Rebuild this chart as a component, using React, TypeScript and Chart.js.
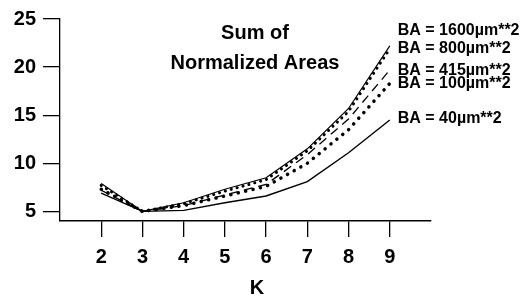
import React, { useEffect, useRef } from 'react';
import { Chart, registerables } from 'chart.js';

Chart.register(...registerables);

const kValues = [2, 3, 4, 5, 6, 7, 8, 9];
const ba1600 = [7.9, 5.0, 5.9, 7.3, 8.5, 11.5, 15.7, 22.2];
const ba800 = [7.7, 5.0, 5.8, 7.1, 8.3, 11.3, 15.4, 21.9];
const ba415 = [7.2, 5.0, 5.6, 6.7, 7.8, 10.9, 14.6, 19.7];
const ba100 = [7.3, 5.0, 5.6, 6.6, 7.6, 10.0, 13.5, 18.3];
const ba40 = [6.9, 5.0, 5.1, 5.9, 6.6, 8.1, 11.1, 14.5];

const seriesLabels = [
  'BA = 1600µm**2',
  'BA = 800µm**2',
  'BA = 415µm**2',
  'BA = 100µm**2',
  'BA = 40µm**2',
];
const labelValues = [23.75, 21.9, 19.6, 18.3, 14.6];
const yTicks = [5, 10, 15, 20, 25];
const xTicks = [2, 3, 4, 5, 6, 7, 8, 9];
const titleLines = ['Sum of', 'Normalized Areas'];
const titleValues = [23.45, 20.4];
const xTitle = 'K';

const FONT = '"Liberation Sans", Arial, Helvetica, sans-serif';

const textPlugin = {
  id: 'textPlugin',
  afterDraw(chart: any) {
    const { ctx, scales } = chart;
    const xs = scales.x;
    const ys = scales.y;
    ctx.save();
    ctx.fillStyle = '#000';
    // title
    ctx.font = `bold 20px ${FONT}`;
    ctx.textAlign = 'center';
    ctx.textBaseline = 'middle';
    titleLines.forEach((t, i) => {
      ctx.fillText(t, xs.getPixelForValue(5.73), ys.getPixelForValue(titleValues[i]));
    });
    // series labels
    ctx.font = `bold 16px ${FONT}`;
    ctx.textAlign = 'left';
    seriesLabels.forEach((t, i) => {
      ctx.fillText(t, xs.getPixelForValue(9) + 8, ys.getPixelForValue(labelValues[i]));
    });
    // x title
    ctx.font = `bold 20px ${FONT}`;
    ctx.textAlign = 'center';
    ctx.fillText(xTitle, xs.getPixelForValue(5.78), 288);
    ctx.restore();
  },
};

export default function App() {
  const ref = useRef<HTMLCanvasElement | null>(null);
  useEffect(() => {
    if (!ref.current) return;
    const mk = (arr: number[]) => kValues.map((k, i) => ({ x: k, y: arr[i] }));
    const chart = new Chart(ref.current, {
      type: 'line',
      data: {
        datasets: [
          { label: seriesLabels[0], data: mk(ba1600), borderColor: '#000', borderWidth: 1.2, pointRadius: 0, tension: 0 },
          { label: seriesLabels[1], data: mk(ba800), borderColor: '#000', borderWidth: 3, borderDash: [0.1, 6], borderCapStyle: 'round', pointRadius: 0, tension: 0 },
          { label: seriesLabels[2], data: mk(ba415), borderColor: '#000', borderWidth: 1.3, borderDash: [9, 6], pointRadius: 0, tension: 0 },
          { label: seriesLabels[3], data: mk(ba100), borderColor: '#000', borderWidth: 3.5, borderDash: [0.1, 7.5], borderCapStyle: 'round', pointRadius: 0, tension: 0 },
          { label: seriesLabels[4], data: mk(ba40), borderColor: '#000', borderWidth: 1.4, pointRadius: 0, tension: 0 },
        ],
      },
      options: {
        animation: false,
        responsive: false,
        layout: { padding: { top: 18, right: 101, left: 0, bottom: 0 } },
        plugins: { legend: { display: false }, tooltip: { enabled: false }, title: { display: false } },
        scales: {
          x: {
            type: 'linear',
            min: 1,
            max: 10,
            afterBuildTicks: (s: any) => { s.ticks = xTicks.map((v) => ({ value: v })); },
            afterFit: (s: any) => { s.height = 78; },
            ticks: { color: '#000', font: { family: FONT, size: 20, weight: 'bold' }, padding: 8, maxRotation: 0, autoSkip: false },
            grid: { drawOnChartArea: false, drawTicks: true, tickLength: 16, color: '#000', lineWidth: 1.3 },
            border: { display: true, color: '#000', width: 1.6 },
          },
          y: {
            type: 'linear',
            min: 4,
            max: 25,
            afterBuildTicks: (s: any) => { s.ticks = yTicks.map((v) => ({ value: v })); },
            afterFit: (s: any) => { s.width = 60; },
            ticks: { color: '#000', font: { family: FONT, size: 20, weight: 'bold' }, padding: 7, autoSkip: false },
            grid: { drawOnChartArea: false, drawTicks: true, tickLength: 17, color: '#000', lineWidth: 1.3 },
            border: { display: true, color: '#000', width: 1.3 },
          },
        },
      },
      plugins: [textPlugin],
    } as any);
    return () => chart.destroy();
  }, []);
  return (
    <div style={{ position: 'absolute', left: 0, top: 0, width: 532, height: 299, background: '#fff' }}>
      <canvas ref={ref} width={532} height={299} style={{ width: 532, height: 299 }} />
    </div>
  );
}
